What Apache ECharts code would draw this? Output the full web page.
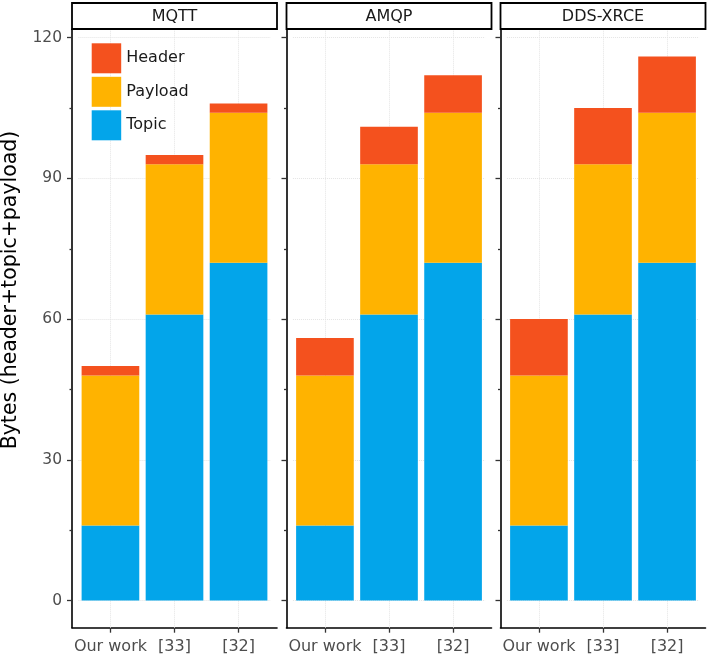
<!DOCTYPE html>
<html>
<head>
<meta charset="utf-8">
<script src="https://cdn.jsdelivr.net/npm/echarts@6/dist/echarts.min.js"></script>
<style>
html,body{margin:0;padding:0;background:#fff;}
#chart{width:707px;height:656px;}
</style>
</head>
<body>
<div id="chart"></div>
<script>
// ---- data ----
const protocols = ['MQTT', 'AMQP', 'DDS-XRCE'];
const categories = ['Our work', '[33]', '[32]'];
const seriesNames = ['Header', 'Payload', 'Topic'];
const topicMQTT = [16, 61, 72];
const payloadMQTT = [32, 32, 32];
const headerMQTT = [2, 2, 2];
const topicAMQP = [16, 61, 72];
const payloadAMQP = [32, 32, 32];
const headerAMQP = [8, 8, 8];
const topicDDS = [16, 61, 72];
const payloadDDS = [32, 32, 32];
const headerDDS = [12, 12, 12];
const majorTicks = [0, 30, 60, 90, 120];
const minorTicks = [15, 45, 75, 105];
const yMin = -5.8, yMax = 121.8;

const panelData = [
  { topic: topicMQTT, payload: payloadMQTT, header: headerMQTT },
  { topic: topicAMQP, payload: payloadAMQP, header: headerAMQP },
  { topic: topicDDS, payload: payloadDDS, header: headerDDS }
];
const colors = { Header: '#F4511E', Payload: '#FFB300', Topic: '#03A5EA' };

// ---- layout ----
const FONT = 'DejaVu Sans';
const panelLeft = [72, 286.5, 500.5];
const panelW = 205;
const panelTop = 29.3;
const panelH = 598.4;
const inset = panelW * 0.1 / 3.2; // ggplot discrete expansion

const grids = [], xAxes = [], yAxes = [], series = [], graphics = [];
// frame grids 0..2
panelLeft.forEach((L) => {
  grids.push({ left: L, top: panelTop, width: panelW, height: panelH, containLabel: false });
});
// data grids 3..5
panelLeft.forEach((L) => {
  grids.push({ left: L + inset, top: panelTop, width: panelW - 2 * inset, height: panelH, containLabel: false });
});
// minor-tick grids 6..8
panelLeft.forEach((L) => {
  grids.push({ left: L, top: panelTop, width: panelW, height: panelH, containLabel: false });
});

const axisLineStyle = { color: '#000', width: 1.6 };
// frame x axes 0..2
panelLeft.forEach((L, i) => {
  xAxes.push({
    type: 'value', gridIndex: i, min: 0, max: 1, position: 'bottom',
    axisLine: { show: true, onZero: false, lineStyle: axisLineStyle },
    axisTick: { show: false }, axisLabel: { show: false }, splitLine: { show: false }
  });
});
// data x axes 3..5
panelLeft.forEach((L, i) => {
  xAxes.push({
    type: 'category', gridIndex: 3 + i, data: categories, position: 'bottom',
    axisLine: { show: false, onZero: false },
    axisTick: { show: true, alignWithLabel: true, length: 5, lineStyle: { color: '#333', width: 1.3 } },
    axisLabel: { show: true, interval: 0, margin: 11.5, color: '#4d4d4d', fontSize: 16, fontFamily: FONT },
    splitLine: { show: false }
  });
});
// minor-grid x axes 6..8 (hidden)
panelLeft.forEach((L, i) => {
  xAxes.push({ type: 'value', gridIndex: 6 + i, min: 0, max: 1, show: false, splitLine: { show: false } });
});
// frame y axes 0..2
panelLeft.forEach((L, i) => {
  yAxes.push({
    type: 'value', gridIndex: i, min: yMin, max: yMax, position: 'left',
    axisLine: { show: true, onZero: false, lineStyle: axisLineStyle },
    axisTick: { show: true, length: 5, customValues: majorTicks, lineStyle: { color: '#333', width: 1.3 } },
    axisLabel: { show: i === 0, customValues: majorTicks, margin: 10, color: '#4d4d4d', fontSize: 15.5, fontFamily: FONT },
    splitLine: { show: false }
  });
});
// data y axes 3..5
panelLeft.forEach((L, i) => {
  yAxes.push({ type: 'value', gridIndex: 3 + i, min: yMin, max: yMax, position: 'left', show: false, splitLine: { show: false } });
});
// minor tick y axes 6..8
panelLeft.forEach((L, i) => {
  yAxes.push({
    type: 'value', gridIndex: 6 + i, min: yMin, max: yMax, position: 'left',
    axisLine: { show: false, onZero: false },
    axisTick: { show: true, length: 2.5, customValues: minorTicks, lineStyle: { color: '#333', width: 1.3 } },
    axisLabel: { show: false },
    splitLine: { show: false }
  });
});

const gridLineStyle = { color: '#e4e4e4', type: 'dotted', width: 1 };
panelData.forEach((p, i) => {
  const common = {
    type: 'bar', xAxisIndex: 3 + i, yAxisIndex: 3 + i, stack: 'panel' + i,
    barCategoryGap: '10%', z: 3, silent: true
  };
  series.push(Object.assign({}, common, {
    name: 'Topic', data: p.topic, itemStyle: { color: colors.Topic },
    markLine: {
      silent: true, symbol: 'none', z: 1, animation: false,
      label: { show: false },
      lineStyle: gridLineStyle,
      data: majorTicks.map(v => ({ yAxis: v })).concat(categories.map(c => ({ xAxis: c })))
    }
  }));
  series.push(Object.assign({}, common, { name: 'Payload', data: p.payload, itemStyle: { color: colors.Payload } }));
  series.push(Object.assign({}, common, { name: 'Header', data: p.header, itemStyle: { color: colors.Header } }));
});

// strips
panelLeft.forEach((L, i) => {
  graphics.push({
    type: 'rect', shape: { x: L, y: 3, width: panelW, height: 26 },
    style: { fill: '#fff', stroke: '#000', lineWidth: 1.8 }, z: 10
  });
  graphics.push({
    type: 'text', x: L + panelW / 2, y: 16.5, z: 11,
    style: { text: protocols[i], fill: '#1a1a1a', font: '16px "' + FONT + '"', textAlign: 'center', textVerticalAlign: 'middle' }
  });
});
// y axis title
graphics.push({
  type: 'text', x: 11, y: 290, rotation: Math.PI / 2, z: 11,
  style: { text: 'Bytes (header+topic+payload)', fill: '#000', font: '20.5px "' + FONT + '"', textAlign: 'center', textVerticalAlign: 'middle' }
});

const chart = echarts.init(document.getElementById('chart'), null, { renderer: 'canvas' });
chart.setOption({
  animation: false,
  backgroundColor: '#fff',
  textStyle: { fontFamily: FONT },
  grid: grids,
  xAxis: xAxes,
  yAxis: yAxes,
  legend: {
    data: seriesNames, orient: 'vertical', left: 86.7, top: 38.3,
    itemWidth: 29.5, itemHeight: 30, itemGap: 3.5, icon: 'rect', selectedMode: false,
    textStyle: { fontSize: 16, color: '#1a1a1a', fontFamily: FONT }
  },
  series: series,
  graphic: graphics
});
</script>
</body>
</html>
